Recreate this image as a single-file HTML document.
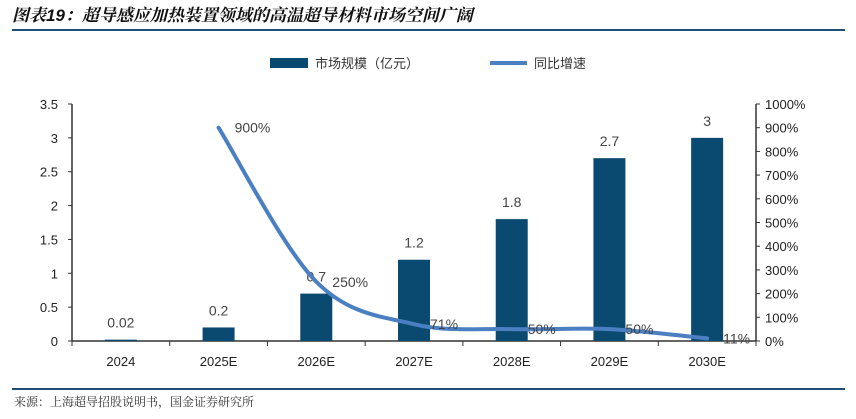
<!DOCTYPE html>
<html><head><meta charset="utf-8"><style>
body{margin:0;background:#fff;width:856px;height:414px;overflow:hidden;font-family:"Liberation Sans","Noto Sans CJK SC",sans-serif}
</style></head><body>
<svg id="c" width="856" height="414" xmlns="http://www.w3.org/2000/svg">
<text x="12" y="21" font-size="17" font-weight="bold" font-style="italic" fill="#111" font-family="'Liberation Sans','Noto Serif CJK SC',serif">图表19：超导感应加热装置领域的高温超导材料市场空间广阔</text>
<line x1="12" y1="30" x2="845" y2="30" stroke="#1f4e79" stroke-width="2"/>
<rect x="270" y="58" width="38" height="10" fill="#0b4a70"/>
<text x="315" y="68" font-size="13" fill="#333">市场规模（亿元）</text>
<line x1="490" y1="63" x2="527" y2="63" stroke="#4a7fc1" stroke-width="4"/>
<text x="534" y="68" font-size="13" fill="#333">同比增速</text>
<g id="plot"></g>
<line x1="12" y1="389" x2="845" y2="389" stroke="#1f4e79" stroke-width="2"/>
<text x="14" y="406" font-size="12" fill="#333" font-family="'Liberation Serif','Noto Serif CJK SC',serif">来源：上海超导招股说明书，国金证券研究所</text>
</svg>
<script>
const categories=["2024","2025E","2026E","2027E","2028E","2029E","2030E"];
const marketSize=[0.02,0.2,0.7,1.2,1.8,2.7,3];
const marketLabels=["0.02","0.2","0.7","1.2","1.8","2.7","3"];
const growth=[null,900,250,71,50,50,11];
const growthLabels=[null,"900%","250%","71%","50%","50%","11%"];
const leftTicks=[0,0.5,1,1.5,2,2.5,3,3.5];
const rightTicks=[0,100,200,300,400,500,600,700,800,900,1000];
const NS="http://www.w3.org/2000/svg";
const g=document.getElementById('plot');
const X0=72,X1=756,Y0=341,Y1=104;
const band=(X1-X0)/categories.length;
const xc=i=>X0+band*(i+0.5);
const yL=v=>Y0-(v/3.5)*(Y0-Y1);
const yR=v=>Y0-(v/1000)*(Y0-Y1);
function mk(t,a){const e=document.createElementNS(NS,t);for(const k in a)e.setAttribute(k,a[k]);g.appendChild(e);return e;}
// axes
let e;
e=mk('line',{x1:X0,y1:Y1,x2:X0,y2:Y0,stroke:'#333','stroke-width':1.5});


e=mk('line',{x1:X1,y1:Y1,x2:X1,y2:Y0,stroke:'#333','stroke-width':1.5});


e=mk('line',{x1:X0,y1:Y0,x2:X1,y2:Y0,stroke:'#333','stroke-width':1.5});


leftTicks.forEach(v=>{
  mk('line',{x1:X0-4,y1:yL(v),x2:X0,y2:yL(v),stroke:'#333'});
  e=mk('text',{x:X0-14,y:yL(v)+5,'font-size':13,'text-anchor':'end',fill:'#222'});
  e.textContent=v;
  
  
});
rightTicks.forEach(v=>{
  mk('line',{x1:X1,y1:yR(v),x2:X1+4,y2:yR(v),stroke:'#333'});
  e=mk('text',{x:X1+9,y:yR(v)+5,'font-size':13,fill:'#222'});
  e.textContent=v+'%';
  
  
});
for(let i=0;i<=categories.length;i++){mk('line',{x1:X0+band*i,y1:Y0,x2:X0+band*i,y2:Y0+5,stroke:'#333'});}
categories.forEach((c,i)=>{
  e=mk('text',{x:xc(i),y:Y0+25,'font-size':13,'text-anchor':'middle',fill:'#222'});
  e.textContent=c;
  
  
});
// bars
const bw=32;
marketSize.forEach((v,i)=>{
  e=mk('rect',{x:xc(i)-bw/2,y:yL(v),width:bw,height:Y0-yL(v),fill:'#0b4a70'});
  
  
  e=mk('text',{x:xc(i),y:yL(v)-12,'font-size':14,'text-anchor':'middle',fill:'#444'});
  e.textContent=marketLabels[i];
  
  
});
// line
const pts=[];growth.forEach((v,i)=>{if(v!==null)pts.push([xc(i),yR(v),i]);});
let d='M'+pts[0][0]+','+pts[0][1];
for(let k=0;k<pts.length-1;k++){
  const p0=pts[Math.max(0,k-1)],p1=pts[k],p2=pts[k+1],p3=pts[Math.min(pts.length-1,k+2)];
  const t=0.6/6*3/3*1;
  const c1=[p1[0]+(p2[0]-p0[0])/6,p1[1]+(p2[1]-p0[1])/6];
  const c2=[p2[0]-(p3[0]-p1[0])/6,p2[1]-(p3[1]-p1[1])/6];
  d+=' C'+c1+' '+c2+' '+p2[0]+','+p2[1];
}
e=mk('path',{d:d,fill:'none',stroke:'#4a7fc1','stroke-width':4,'stroke-linecap':'round'});


pts.forEach(p=>{
  e=mk('text',{x:p[0]+16,y:p[1]+5,'font-size':14,fill:'#444'});
  e.textContent=growthLabels[p[2]];
  
  
});
</script>
</body></html>
